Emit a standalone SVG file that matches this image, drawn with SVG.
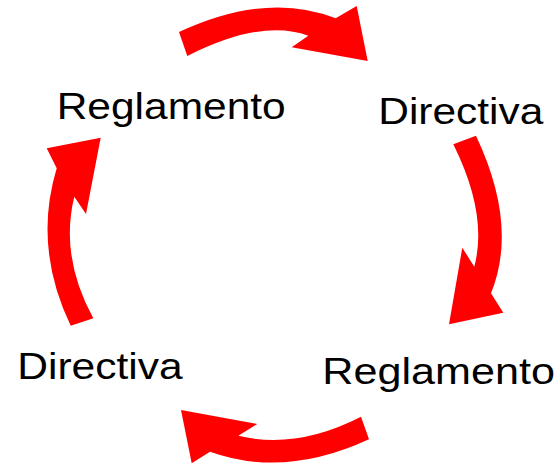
<svg xmlns="http://www.w3.org/2000/svg" width="557" height="465" viewBox="0 0 557 465">
<style>
.arrow{fill:#ff0000;stroke:none}
.lbl{font-family:"Liberation Sans",Arial,sans-serif;font-size:36px;fill:#000}
</style>
<rect width="557" height="465" fill="#fff"/>
<g id="connectors">
<path class="arrow" d="M179,32 Q267,-9 335.7,18.3 L356.7,6 L367.7,61 L291.7,47.3 L308.3,35.7 Q262.2,18.2 187.3,56 Z"/>
<path class="arrow" d="M476,135.7 Q518.5,225.5 491,293.3 L503.3,312.7 L449,324.3 L462.3,247.7 L474.3,266.7 Q488.2,214.5 453.3,144.3 Z"/>
<path class="arrow" d="M369,439.3 Q284.5,478.5 210,451.7 L191.7,463.3 L181,410 L257.3,424 L238.3,435.7 Q296.4,449.8 361,416.7 Z"/>
<path class="arrow" d="M70.7,325.7 Q32.9,247 56.7,168.3 L46.7,148.3 L100.7,137.7 L86,214 L74.3,196.7 Q59.6,256.5 93.3,318.3 Z"/>
</g>
<g id="n1"><text class="lbl" x="56.7" y="119.3" textLength="229" lengthAdjust="spacingAndGlyphs">Reglamento</text></g>
<g id="n2"><text class="lbl" x="378.3" y="124" textLength="165" lengthAdjust="spacingAndGlyphs">Directiva</text></g>
<g id="n3"><text class="lbl" x="322.3" y="383.7" textLength="232.7" lengthAdjust="spacingAndGlyphs">Reglamento</text></g>
<g id="n4"><text class="lbl" x="17.3" y="379.3" textLength="165.4" lengthAdjust="spacingAndGlyphs">Directiva</text></g>
</svg>
